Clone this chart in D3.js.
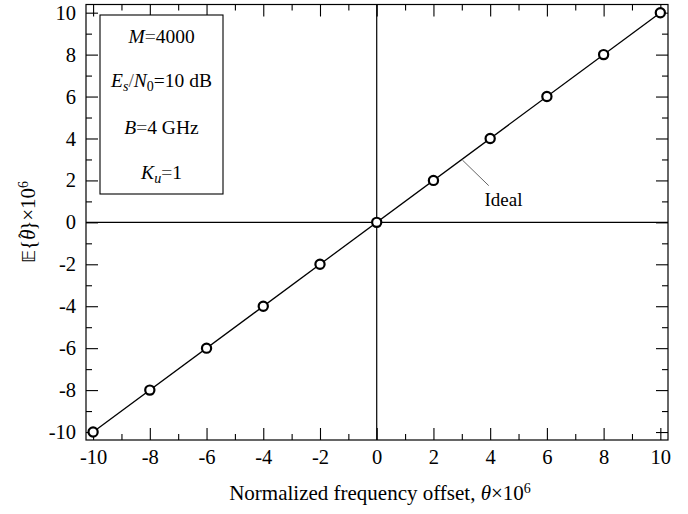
<!DOCTYPE html>
<html>
<head>
<meta charset="utf-8">
<script src="https://cdn.jsdelivr.net/npm/d3@7"></script>
<style>
  body { margin: 0; background: #fff; }
  svg text { font-family: "Liberation Serif", "Times New Roman", serif; fill: #000; }
</style>
</head>
<body>
<div id="chart"></div>
<script>
// data
var offsets = [-10, -8, -6, -4, -2, 0, 2, 4, 6, 8, 10];
var meanEst = [-10, -8, -6, -4, -2, 0, 2, 4, 6, 8, 10];
var idealX = [-10, 10];
var idealY = [-10, 10];
var majorTicks = [-10, -8, -6, -4, -2, 0, 2, 4, 6, 8, 10];
var minorTicks = [-9, -7, -5, -3, -1, 1, 3, 5, 7, 9];

var W = 688, H = 514;
var margin = { top: 4.5, right: 20, bottom: 74, left: 86 },
  width = W - margin.left - margin.right,
  height = H - margin.top - margin.bottom;

var svg = d3.select("#chart").append("svg")
  .attr("width", W).attr("height", H)
  .append("g")
  .attr("transform", "translate(" + margin.left + "," + margin.top + ")");

var x = d3.scaleLinear().domain([-10.25, 10.27]).range([0, width]);
var y = d3.scaleLinear().domain([-10.38, 10.39]).range([height, 0]);
var fmt = function (d) { return String(d); }; // plain hyphen like the original

// zero lines
svg.append("line").attr("x1", x(0)).attr("x2", x(0)).attr("y1", 0).attr("y2", height)
  .attr("stroke", "#000").attr("stroke-width", 1.2);
svg.append("line").attr("x1", 0).attr("x2", width).attr("y1", y(0)).attr("y2", y(0))
  .attr("stroke", "#000").attr("stroke-width", 1.2);

// axes, ticks inward
function styleAxis(g) {
  g.select(".domain").remove();
  g.selectAll(".tick line").attr("stroke", "#000").attr("stroke-width", 1.1);
  g.selectAll(".tick text").style("font-size", "20.5px").attr("fill", "#000");
}
svg.append("g").attr("transform", "translate(0," + height + ")")
  .call(d3.axisBottom(x).tickValues(majorTicks).tickSize(-12).tickPadding(9).tickFormat(fmt))
  .call(styleAxis);
svg.append("g").attr("transform", "translate(0," + height + ")")
  .call(d3.axisBottom(x).tickValues(minorTicks).tickSize(-6).tickFormat(""))
  .call(styleAxis);
svg.append("g")
  .call(d3.axisTop(x).tickValues(majorTicks).tickSize(-12).tickFormat(""))
  .call(styleAxis);
svg.append("g")
  .call(d3.axisTop(x).tickValues(minorTicks).tickSize(-6).tickFormat(""))
  .call(styleAxis);
svg.append("g")
  .call(d3.axisLeft(y).tickValues(majorTicks).tickSize(-12).tickPadding(10).tickFormat(fmt))
  .call(styleAxis);
svg.append("g")
  .call(d3.axisLeft(y).tickValues(minorTicks).tickSize(-6).tickFormat(""))
  .call(styleAxis);
svg.append("g").attr("transform", "translate(" + width + ",0)")
  .call(d3.axisRight(y).tickValues(majorTicks).tickSize(-12).tickFormat(""))
  .call(styleAxis);
svg.append("g").attr("transform", "translate(" + width + ",0)")
  .call(d3.axisRight(y).tickValues(minorTicks).tickSize(-6).tickFormat(""))
  .call(styleAxis);

// frame
svg.append("rect").attr("width", width).attr("height", height)
  .attr("fill", "none").attr("stroke", "#000").attr("stroke-width", 1.2);

// ideal line
var line = d3.line().x(function (d) { return x(d[0]); }).y(function (d) { return y(d[1]); });
svg.append("path")
  .datum(idealX.map(function (v, i) { return [v, idealY[i]]; }))
  .attr("d", line).attr("fill", "none").attr("stroke", "#000").attr("stroke-width", 1.3);

// estimated points
svg.selectAll(".pt")
  .data(offsets.map(function (v, i) { return [v, meanEst[i]]; }))
  .enter().append("circle")
  .attr("cx", function (d) { return x(d[0]); })
  .attr("cy", function (d) { return y(d[1]); })
  .attr("r", 4.6)
  .attr("fill", "#fff").attr("stroke", "#000").attr("stroke-width", 2.2);

// "Ideal" annotation
svg.append("line")
  .attr("x1", x(3.02)).attr("y1", y(3.02) + 1)
  .attr("x2", x(3.95)).attr("y2", y(1.75))
  .attr("stroke", "#666").attr("stroke-width", 1);
svg.append("text").attr("x", x(3.8)).attr("y", y(0.8))
  .style("font-size", "19px").text("Ideal");

// parameter box
var box = svg.append("g").attr("transform", "translate(" + (100 - margin.left) + "," + (15 - margin.top) + ")");
box.append("rect").attr("width", 123).attr("height", 179)
  .attr("fill", "#fff").attr("stroke", "#000").attr("stroke-width", 1.1);

var fs = "19.5px";
function addLine(yy, parts) {
  var t = box.append("text").attr("x", 61.5).attr("y", yy).attr("text-anchor", "middle").style("font-size", fs);
  parts.forEach(function (p) {
    var s = t.append("tspan").text(p.t);
    if (p.i) s.style("font-style", "italic");
    if (p.sub) s.attr("baseline-shift", "-28%").style("font-size", "14px");
    if (p.g) s.attr("fill", "#555");
  });
}
addLine(28, [{ t: "M", i: 1 }, { t: "=", g: 1 }, { t: "4000" }]);
addLine(72, [{ t: "E", i: 1 }, { t: "s", i: 1, sub: 1 }, { t: "/", g: 1 }, { t: "N", i: 1 }, { t: "0", sub: 1 }, { t: "=10 dB" }]);
addLine(119, [{ t: "B", i: 1 }, { t: "=", g: 1 }, { t: "4 GHz" }]);
addLine(164, [{ t: "K", i: 1 }, { t: "u", i: 1, sub: 1 }, { t: "=", g: 1 }, { t: "1" }]);

// axis titles
var xt = svg.append("text").attr("x", width / 2 + 3).attr("y", height + 60)
  .attr("text-anchor", "middle").style("font-size", "21px");
xt.append("tspan").text("Normalized frequency offset, ");
xt.append("tspan").style("font-style", "italic").text("\u03b8");
xt.append("tspan").text("\u00d710");
xt.append("tspan").attr("baseline-shift", "50%").style("font-size", "14px").text("6");

var yt = svg.append("text")
  .attr("transform", "translate(" + (35 - margin.left) + "," + (222 - margin.top) + ") rotate(-90)")
  .attr("text-anchor", "middle").style("font-size", "21px");
yt.append("tspan").style("font-family", "DejaVu Sans").style("font-size", "18px").text("\ud835\udd3c");
yt.append("tspan").text("{");
yt.append("tspan").style("font-style", "italic").text("\u03b8");
yt.append("tspan").attr("dx", -9).attr("dy", -5).style("font-size", "17px").text("\u02c6");
yt.append("tspan").attr("dx", 2).attr("dy", 5).text("}\u00d710");
yt.append("tspan").attr("baseline-shift", "50%").style("font-size", "14px").text("6");
</script>
</body>
</html>
